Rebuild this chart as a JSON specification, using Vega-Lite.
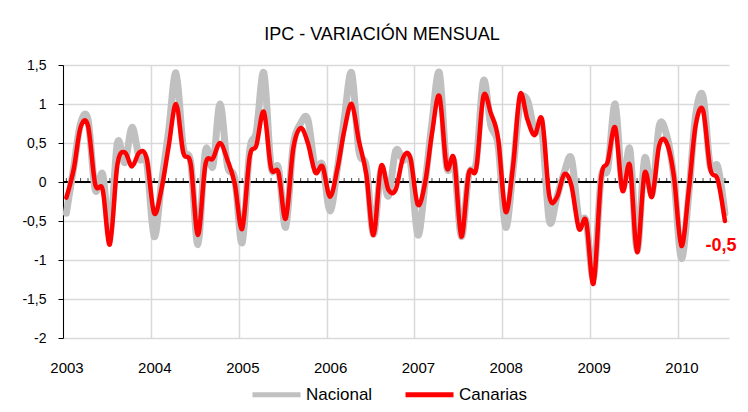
{
  "$schema": "https://vega.github.io/schema/vega-lite/v6.json",
  "autosize": {"type": "none"},
  "width": 666,
  "height": 273,
  "padding": {"left": 63, "top": 65, "right": 19, "bottom": 74},
  "background": "white",
  "config": {
    "font": "Liberation Sans",
    "view": {"stroke": null},
    "axisY": {
      "title": null, "labelOverlap": false,
      "domain": true, "domainColor": "black", "domainWidth": 1,
      "ticks": true, "tickColor": "black", "tickSize": 5,
      "grid": true, "gridColor": "#d9d9d9", "gridWidth": 1.5,
      "labelFontSize": 14, "labelColor": "black", "labelPadding": 12
    },
    "axisX": {
      "title": null, "domain": false, "ticks": false, "tickSize": 0,
      "grid": true, "gridColor": "#d9d9d9", "gridWidth": 1.5,
      "labelFontSize": 15, "labelColor": "black", "labelPadding": 22, "labelOffset": 3.5, "labelFlush": false
    }
  },
  "title": {"text": "IPC - VARIACIÓN MENSUAL", "fontSize": 18, "fontWeight": "normal", "color": "black", "offset": 14, "dx": -14},
  "data": {"values": [
    {"fecha": "2003/01/15", "Nacional": -0.4, "Canarias": -0.2},
    {"fecha": "2003/02/15", "Nacional": 0.2, "Canarias": 0.17},
    {"fecha": "2003/03/15", "Nacional": 0.75, "Canarias": 0.7},
    {"fecha": "2003/04/15", "Nacional": 0.8, "Canarias": 0.72},
    {"fecha": "2003/05/15", "Nacional": -0.1, "Canarias": -0.03},
    {"fecha": "2003/06/15", "Nacional": 0.1, "Canarias": -0.1},
    {"fecha": "2003/07/15", "Nacional": -0.65, "Canarias": -0.8},
    {"fecha": "2003/08/15", "Nacional": 0.5, "Canarias": 0.22},
    {"fecha": "2003/09/15", "Nacional": 0.25, "Canarias": 0.38},
    {"fecha": "2003/10/15", "Nacional": 0.7, "Canarias": 0.2},
    {"fecha": "2003/11/15", "Nacional": 0.3, "Canarias": 0.38},
    {"fecha": "2003/12/15", "Nacional": 0.25, "Canarias": 0.3},
    {"fecha": "2004/01/15", "Nacional": -0.7, "Canarias": -0.4},
    {"fecha": "2004/02/15", "Nacional": 0.0, "Canarias": -0.08},
    {"fecha": "2004/03/15", "Nacional": 0.65, "Canarias": 0.45},
    {"fecha": "2004/04/15", "Nacional": 1.4, "Canarias": 1.0},
    {"fecha": "2004/05/15", "Nacional": 0.45, "Canarias": 0.38},
    {"fecha": "2004/06/15", "Nacional": 0.25, "Canarias": 0.23},
    {"fecha": "2004/07/15", "Nacional": -0.8, "Canarias": -0.68},
    {"fecha": "2004/08/15", "Nacional": 0.4, "Canarias": 0.22},
    {"fecha": "2004/09/15", "Nacional": 0.2, "Canarias": 0.3},
    {"fecha": "2004/10/15", "Nacional": 1.0, "Canarias": 0.5},
    {"fecha": "2004/11/15", "Nacional": 0.2, "Canarias": 0.28},
    {"fecha": "2004/12/15", "Nacional": 0.05, "Canarias": -0.02},
    {"fecha": "2005/01/15", "Nacional": -0.78, "Canarias": -0.6},
    {"fecha": "2005/02/15", "Nacional": 0.4, "Canarias": 0.32},
    {"fecha": "2005/03/15", "Nacional": 0.65, "Canarias": 0.47},
    {"fecha": "2005/04/15", "Nacional": 1.4, "Canarias": 0.9},
    {"fecha": "2005/05/15", "Nacional": 0.2, "Canarias": 0.18},
    {"fecha": "2005/06/15", "Nacional": 0.18, "Canarias": 0.12},
    {"fecha": "2005/07/15", "Nacional": -0.58, "Canarias": -0.47},
    {"fecha": "2005/08/15", "Nacional": 0.47, "Canarias": 0.42},
    {"fecha": "2005/09/15", "Nacional": 0.75, "Canarias": 0.69},
    {"fecha": "2005/10/15", "Nacional": 0.8, "Canarias": 0.5},
    {"fecha": "2005/11/15", "Nacional": 0.18, "Canarias": 0.12},
    {"fecha": "2005/12/15", "Nacional": 0.22, "Canarias": 0.2},
    {"fecha": "2006/01/15", "Nacional": -0.37, "Canarias": -0.19},
    {"fecha": "2006/02/15", "Nacional": 0.18, "Canarias": 0.17},
    {"fecha": "2006/03/15", "Nacional": 0.8, "Canarias": 0.65},
    {"fecha": "2006/04/15", "Nacional": 1.4, "Canarias": 1.0},
    {"fecha": "2006/05/15", "Nacional": 0.4, "Canarias": 0.53},
    {"fecha": "2006/06/15", "Nacional": 0.2, "Canarias": 0.1},
    {"fecha": "2006/07/15", "Nacional": -0.67, "Canarias": -0.68},
    {"fecha": "2006/08/15", "Nacional": 0.15, "Canarias": 0.2},
    {"fecha": "2006/09/15", "Nacional": -0.18, "Canarias": -0.1},
    {"fecha": "2006/10/15", "Nacional": 0.4, "Canarias": -0.1},
    {"fecha": "2006/11/15", "Nacional": 0.28, "Canarias": 0.31},
    {"fecha": "2006/12/15", "Nacional": 0.27, "Canarias": 0.31},
    {"fecha": "2007/01/15", "Nacional": -0.68, "Canarias": -0.29},
    {"fecha": "2007/02/15", "Nacional": 0.0, "Canarias": 0.0},
    {"fecha": "2007/03/15", "Nacional": 0.76, "Canarias": 0.62},
    {"fecha": "2007/04/15", "Nacional": 1.4, "Canarias": 1.1},
    {"fecha": "2007/05/15", "Nacional": 0.2, "Canarias": 0.19},
    {"fecha": "2007/06/15", "Nacional": 0.25, "Canarias": 0.3},
    {"fecha": "2007/07/15", "Nacional": -0.7, "Canarias": -0.7},
    {"fecha": "2007/08/15", "Nacional": 0.09, "Canarias": 0.11},
    {"fecha": "2007/09/15", "Nacional": 0.25, "Canarias": 0.17},
    {"fecha": "2007/10/15", "Nacional": 1.3, "Canarias": 1.1},
    {"fecha": "2007/11/15", "Nacional": 0.72, "Canarias": 0.88},
    {"fecha": "2007/12/15", "Nacional": 0.47, "Canarias": 0.56},
    {"fecha": "2008/01/15", "Nacional": -0.58, "Canarias": -0.38},
    {"fecha": "2008/02/15", "Nacional": 0.15, "Canarias": 0.2},
    {"fecha": "2008/03/15", "Nacional": 1.0, "Canarias": 1.12},
    {"fecha": "2008/04/15", "Nacional": 1.05, "Canarias": 0.8},
    {"fecha": "2008/05/15", "Nacional": 0.65, "Canarias": 0.6},
    {"fecha": "2008/06/15", "Nacional": 0.63, "Canarias": 0.8},
    {"fecha": "2008/07/15", "Nacional": -0.5, "Canarias": -0.18},
    {"fecha": "2008/08/15", "Nacional": -0.2, "Canarias": -0.2},
    {"fecha": "2008/09/15", "Nacional": 0.12, "Canarias": 0.1},
    {"fecha": "2008/10/15", "Nacional": 0.3, "Canarias": -0.05},
    {"fecha": "2008/11/15", "Nacional": -0.47, "Canarias": -0.6},
    {"fecha": "2008/12/15", "Nacional": -0.5, "Canarias": -0.5},
    {"fecha": "2009/01/15", "Nacional": -1.22, "Canarias": -1.3},
    {"fecha": "2009/02/15", "Nacional": 0.05, "Canarias": 0.04},
    {"fecha": "2009/03/15", "Nacional": 0.17, "Canarias": 0.26},
    {"fecha": "2009/04/15", "Nacional": 1.0, "Canarias": 0.7},
    {"fecha": "2009/05/15", "Nacional": -0.07, "Canarias": -0.11},
    {"fecha": "2009/06/15", "Nacional": 0.42, "Canarias": 0.21},
    {"fecha": "2009/07/15", "Nacional": -0.88, "Canarias": -0.9},
    {"fecha": "2009/08/15", "Nacional": 0.3, "Canarias": 0.11},
    {"fecha": "2009/09/15", "Nacional": -0.15, "Canarias": -0.19},
    {"fecha": "2009/10/15", "Nacional": 0.72, "Canarias": 0.47},
    {"fecha": "2009/11/15", "Nacional": 0.6, "Canarias": 0.5},
    {"fecha": "2009/12/15", "Nacional": 0.05, "Canarias": 0.07},
    {"fecha": "2010/01/15", "Nacional": -0.98, "Canarias": -0.82},
    {"fecha": "2010/02/15", "Nacional": -0.15, "Canarias": -0.1},
    {"fecha": "2010/03/15", "Nacional": 0.85, "Canarias": 0.72},
    {"fecha": "2010/04/15", "Nacional": 1.1, "Canarias": 0.92},
    {"fecha": "2010/05/15", "Nacional": 0.2, "Canarias": 0.17},
    {"fecha": "2010/06/15", "Nacional": 0.2, "Canarias": 0.03},
    {"fecha": "2010/07/15", "Nacional": -0.4, "Canarias": -0.5}
  ]},
  "transform": [{"fold": ["Nacional", "Canarias"], "as": ["serie", "valor"]}],
  "encoding": {
    "x": {
      "field": "fecha", "type": "temporal", "title": null,
      "scale": {"domain": [{"year": 2003, "month": 1, "date": 1}, {"year": 2010, "month": 8, "date": 1}], "nice": false},
      "axis": {
        "values": [{"year": 2003, "month": 1, "date": 1}, {"year": 2004, "month": 1, "date": 1}, {"year": 2005, "month": 1, "date": 1}, {"year": 2006, "month": 1, "date": 1}, {"year": 2007, "month": 1, "date": 1}, {"year": 2008, "month": 1, "date": 1}, {"year": 2009, "month": 1, "date": 1}, {"year": 2010, "month": 1, "date": 1}],
        "format": "%Y"
      }
    },
    "y": {
      "field": "valor", "type": "quantitative", "title": null,
      "scale": {"domain": [-2, 1.5], "nice": false, "zero": false},
      "axis": {
        "values": [-2, -1.5, -1, -0.5, 0, 0.5, 1, 1.5],
        "labelExpr": "replace(toString(datum.value), '.', ',')"
      }
    }
  },
  "layer": [
    {
      "transform": [{"filter": "datum.serie === 'Canarias'"}],
      "mark": {"type": "rule", "color": "black", "strokeWidth": 1},
      "encoding": {
        "x": {"datum": {"year": 2003, "month": 1, "date": 1}, "type": "temporal"},
        "x2": {"datum": {"year": 2010, "month": 8, "date": 1}},
        "y": {"datum": 0, "type": "quantitative"}
      }
    },
    {
      "transform": [{"filter": "datum.serie === 'Canarias'"}],
      "mark": {"type": "tick", "orient": "vertical", "size": 4, "thickness": 1, "color": "black", "yOffset": -2},
      "encoding": {"y": {"datum": 0, "type": "quantitative"}}
    },
    {
      "transform": [{"filter": "datum.serie === 'Nacional'"}],
      "mark": {"type": "line", "strokeWidth": 7, "interpolate": "cardinal", "strokeJoin": "round", "strokeCap": "round"},
      "encoding": {
        "color": {
          "field": "serie", "type": "nominal", "title": null,
          "scale": {"domain": ["Nacional", "Canarias"], "range": ["#c0c0c0", "#ff0000"]},
          "legend": {
            "orient": "none", "legendX": 187, "legendY": 303, "direction": "horizontal",
            "symbolType": "stroke", "symbolSize": 2304, "symbolStrokeWidth": 5,
            "labelFontSize": 17, "labelColor": "black", "labelOffset": 3, "columnPadding": 22
          }
        }
      }
    },
    {
      "transform": [{"filter": "datum.serie === 'Canarias'"}],
      "mark": {"type": "line", "strokeWidth": 4.5, "interpolate": "cardinal", "strokeJoin": "round", "strokeCap": "round"},
      "encoding": {"color": {"field": "serie", "type": "nominal"}}
    },
    {
      "transform": [{"filter": "datum.serie === 'Canarias' && year(datum.fecha) === 2010 && month(datum.fecha) === 6"}, {"calculate": "replace(toString(datum.valor), '.', ',')", "as": "etiqueta"}],
      "mark": {"type": "text", "color": "#ff0000", "fontWeight": "bold", "fontSize": 18, "dy": 25, "dx": -4, "align": "center"},
      "encoding": {"text": {"field": "etiqueta"}}
    }
  ]
}
